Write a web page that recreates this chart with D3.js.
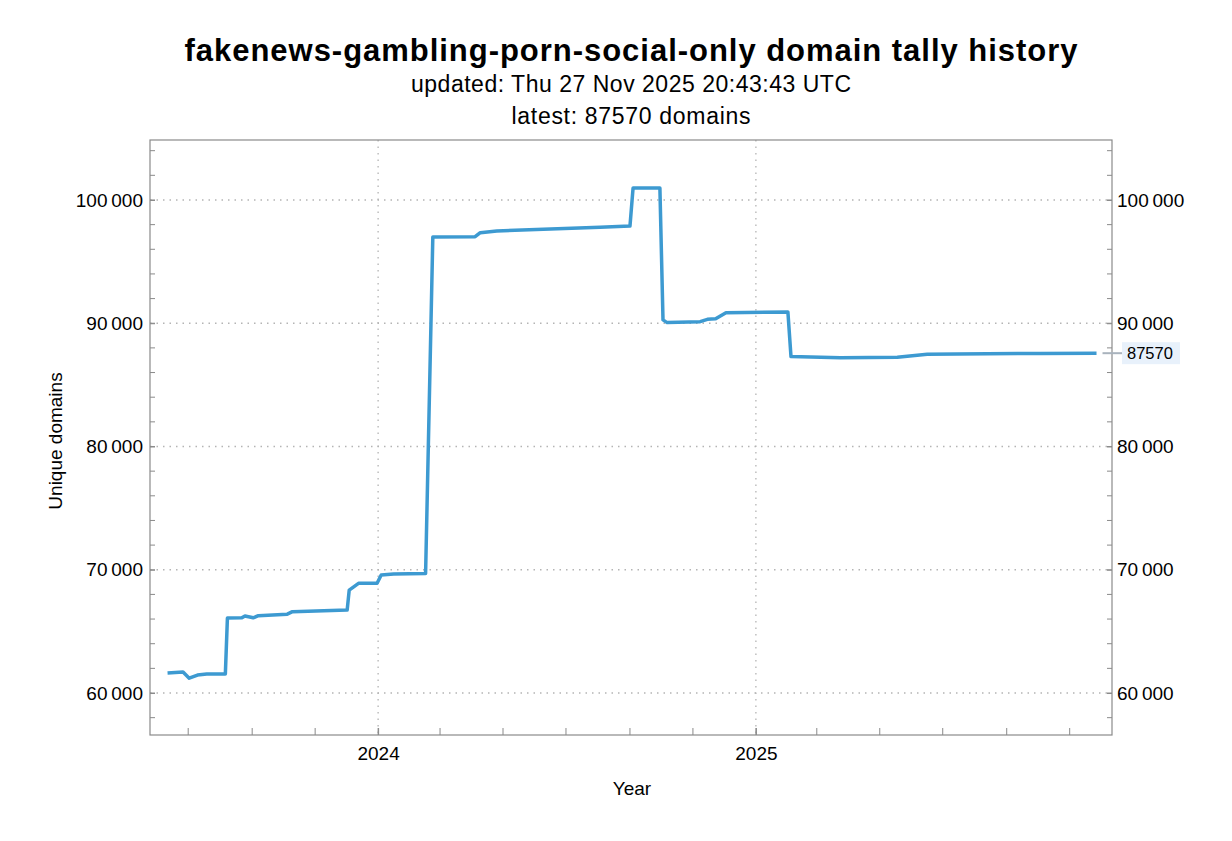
<!DOCTYPE html>
<html>
<head>
<meta charset="utf-8">
<script src="https://cdn.jsdelivr.net/npm/d3@7"></script>
<style>
  body { margin: 0; background: #fff; }
  text { font-family: "Liberation Sans", Arial, sans-serif; fill: #000; }
</style>
</head>
<body>
<div id="chart"></div>
<script>
// data (date, unique domains)
const dates = [
  "2023-06-11", "2023-06-26", "2023-07-02", "2023-07-10", "2023-07-19", "2023-08-06",
  "2023-08-08", "2023-08-22", "2023-08-25", "2023-09-02", "2023-09-07", "2023-10-05",
  "2023-10-10", "2023-12-02", "2023-12-04", "2023-12-13", "2023-12-31", "2024-01-04",
  "2024-01-16", "2024-02-16", "2024-02-23", "2024-04-04", "2024-04-09", "2024-04-25",
  "2024-08-03", "2024-09-01", "2024-09-04", "2024-09-30", "2024-10-03", "2024-10-07",
  "2024-11-08", "2024-11-15", "2024-11-23", "2024-12-03", "2025-02-01", "2025-02-04",
  "2025-03-24", "2025-05-18", "2025-06-16", "2025-07-15", "2025-10-04", "2025-11-27"
];
const domains = [
  61620, 61700, 61200, 61460, 61540, 61540,
  66080, 66100, 66250, 66100, 66270, 66400,
  66600, 66730, 68350, 68900, 68900, 69570,
  69650, 69700, 97000, 97020, 97350, 97490,
  97790, 97890, 100970, 100970, 90270, 90050,
  90130, 90320, 90370, 90860, 90920, 87300,
  87200, 87240, 87480, 87500, 87550, 87570
];
const yTicks = [60000, 70000, 80000, 90000, 100000];
const yearTicks = ["2024-01-01", "2025-01-01"];
const latest = 87570;

const parse = d3.timeParse("%Y-%m-%d");
const data = dates.map((d, i) => ({ date: parse(d), value: domains[i] }));

const W = 1232, H = 841;
const mLeft = 150, mRight = 1112, mTop = 140, mBottom = 735;

const svg = d3.select("#chart")
  .append("svg")
  .attr("width", W)
  .attr("height", H);

const x = d3.scaleTime()
  .domain([parse("2023-05-25"), parse("2025-12-12")])
  .range([mLeft, mRight]);

const y = d3.scaleLinear()
  .domain([56594, 104866])
  .range([mBottom, mTop]);

// titles
svg.append("text")
  .attr("x", 631).attr("y", 61)
  .attr("text-anchor", "middle")
  .attr("textLength", 893).attr("lengthAdjust", "spacing")
  .style("font-size", "31px").style("font-weight", "bold")
  .text("fakenews-gambling-porn-social-only domain tally history");

svg.append("text")
  .attr("x", 631).attr("y", 92)
  .attr("text-anchor", "middle")
  .attr("textLength", 440).attr("lengthAdjust", "spacing")
  .style("font-size", "23px")
  .text("updated: Thu 27 Nov 2025 20:43:43 UTC");

svg.append("text")
  .attr("x", 631).attr("y", 124)
  .attr("text-anchor", "middle")
  .attr("textLength", 239).attr("lengthAdjust", "spacing")
  .style("font-size", "23px")
  .text("latest: 87570 domains");

// grid lines
const grid = svg.append("g")
  .attr("stroke", "#b4b4b4")
  .attr("stroke-width", 1.3)
  .attr("stroke-dasharray", "1.5,5");

grid.selectAll(".gy")
  .data(yTicks)
  .enter()
  .append("line")
  .attr("x1", mLeft).attr("x2", mRight)
  .attr("y1", d => y(d)).attr("y2", d => y(d));

grid.selectAll(".gx")
  .data(yearTicks.map(parse))
  .enter()
  .append("line")
  .attr("x1", d => x(d)).attr("x2", d => x(d))
  .attr("y1", mTop).attr("y2", mBottom);

// axes
const fmt = d => d3.format(",")(d).replace(",", "\u2009");

const yMinor = d3.range(58000, 104001, 2000);
const xMinor = d3.timeMonth.every(2).range(parse("2023-06-01"), parse("2025-12-12"));

const yLeft = d3.axisLeft(y).tickValues(yTicks).tickFormat(fmt).tickSize(-5).tickPadding(7);
const yRight = d3.axisRight(y).tickValues(yTicks).tickFormat(fmt).tickSize(-5).tickPadding(5);
const xBottom = d3.axisBottom(x).tickValues(yearTicks.map(parse))
  .tickFormat(d3.timeFormat("%Y")).tickSize(-7).tickPadding(12);

function styleAxis(g) {
  g.select(".domain").remove();
  g.selectAll("line").attr("stroke", "#8a8a8a");
  g.selectAll("text").style("font-size", "19px");
}

svg.append("g").attr("transform", `translate(${mLeft},0)`).call(yLeft).call(styleAxis);
svg.append("g").attr("transform", `translate(${mRight},0)`).call(yRight).call(styleAxis);
svg.append("g").attr("transform", `translate(0,${mBottom})`).call(xBottom).call(styleAxis);

// minor ticks
const ticks = svg.append("g").attr("stroke", "#8a8a8a").attr("stroke-width", 1);
ticks.selectAll(".ml").data(yMinor).enter().append("line")
  .attr("x1", mLeft).attr("x2", mLeft + 5)
  .attr("y1", d => y(d)).attr("y2", d => y(d));
ticks.selectAll(".mr").data(yMinor).enter().append("line")
  .attr("x1", mRight - 5).attr("x2", mRight)
  .attr("y1", d => y(d)).attr("y2", d => y(d));
ticks.selectAll(".mb").data(xMinor).enter().append("line")
  .attr("x1", d => x(d)).attr("x2", d => x(d))
  .attr("y1", mBottom).attr("y2", mBottom - 7);

// frame
svg.append("rect")
  .attr("x", mLeft).attr("y", mTop)
  .attr("width", mRight - mLeft).attr("height", mBottom - mTop)
  .attr("fill", "none")
  .attr("stroke", "#8a8a8a")
  .attr("stroke-width", 1.2);

// axis titles
svg.append("text")
  .attr("transform", `translate(62,441) rotate(-90)`)
  .attr("text-anchor", "middle")
  .style("font-size", "19px")
  .text("Unique domains");

svg.append("text")
  .attr("x", 632).attr("y", 795)
  .attr("text-anchor", "middle")
  .style("font-size", "19px")
  .text("Year");

// the line
const line = d3.line()
  .x(d => x(d.date))
  .y(d => y(d.value));

svg.append("path")
  .datum(data)
  .attr("fill", "none")
  .attr("stroke", "#3d9ad1")
  .attr("stroke-width", 3.5)
  .attr("stroke-linejoin", "round")
  .attr("d", line);

// latest value callout
const last = data[data.length - 1];
svg.append("line")
  .attr("x1", x(last.date) + 6).attr("x2", mRight + 10)
  .attr("y1", y(latest)).attr("y2", y(latest))
  .attr("stroke", "#a9b3bd")
  .attr("stroke-width", 2);

svg.append("rect")
  .attr("x", mRight + 10).attr("y", y(latest) - 11)
  .attr("width", 58).attr("height", 22)
  .attr("fill", "#e8f1fb");

svg.append("text")
  .attr("x", mRight + 15).attr("y", y(latest) + 6)
  .style("font-size", "16.5px")
  .text(latest);
</script>
</body>
</html>
